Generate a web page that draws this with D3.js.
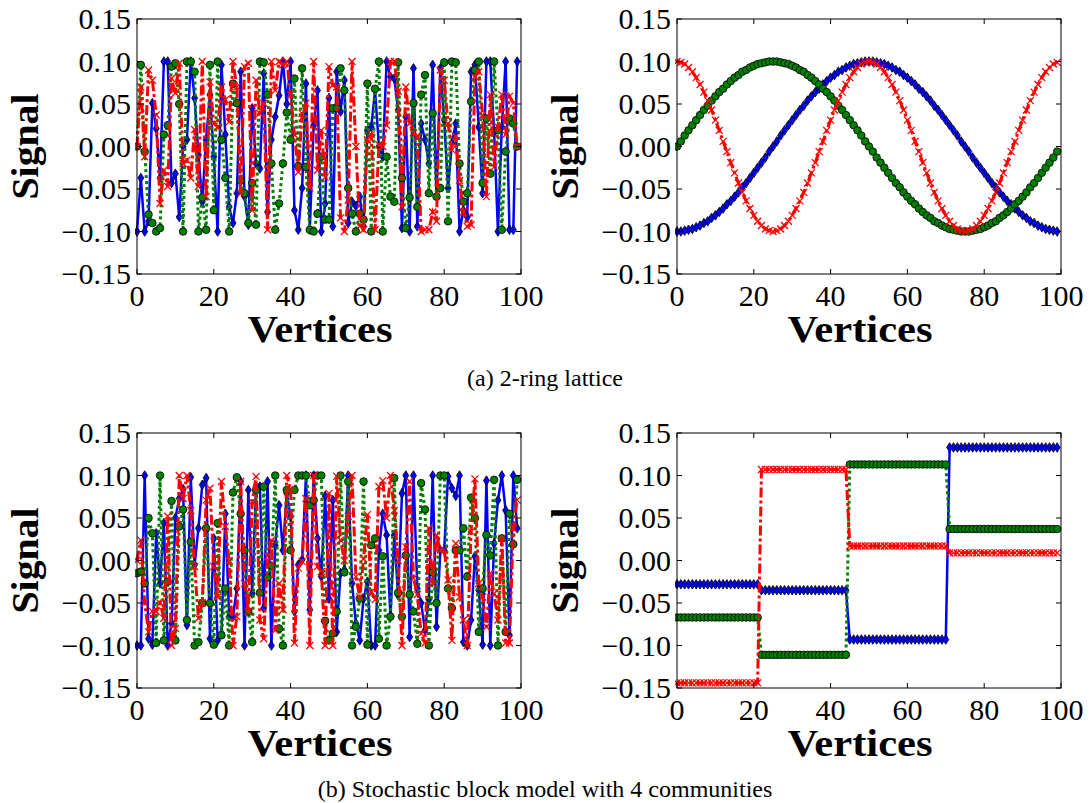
<!DOCTYPE html>
<html><head><meta charset="utf-8">
<script src="https://cdn.jsdelivr.net/npm/d3@7"></script>
<style>body{margin:0;background:#fff}svg{display:block}</style>
</head><body><svg id="c" width="1090" height="803"></svg>
<script>
// ---------- data ----------
const xTicks = [0, 20, 40, 60, 80, 100];
const yTicks = [-0.15, -0.10, -0.05, 0.00, 0.05, 0.10, 0.15];
const captions = ["(a) 2-ring lattice", "(b) Stochastic block model with 4 communities"];

// (a) 2-ring lattice, left panel (noisy eigenvectors)
const ringNoisyBlue = [-0.100,-0.037,-0.100,-0.088,0.051,0.021,-0.037,0.100,0.100,-0.043,-0.032,-0.083,0.000,0.008,0.100,0.057,-0.010,-0.065,0.008,0.061,-0.012,-0.100,0.096,0.014,-0.071,-0.090,-0.055,0.088,-0.059,-0.092,0.045,-0.020,-0.026,0.086,-0.077,0.008,0.035,0.060,0.100,0.050,0.100,-0.075,-0.098,-0.049,0.074,-0.098,0.025,0.066,-0.100,-0.067,0.057,-0.094,0.088,0.041,0.078,-0.090,-0.065,-0.070,-0.059,-0.094,0.019,0.023,0.066,0.000,-0.012,0.100,0.082,0.080,0.043,-0.096,0.035,-0.100,0.092,-0.094,0.027,0.008,-0.020,0.096,-0.059,0.092,0.031,-0.049,0.004,0.027,-0.100,-0.075,-0.083,0.088,0.096,0.023,-0.055,0.100,0.100,0.017,-0.100,0.023,0.100,-0.098,-0.098,0.100];
const ringNoisyGreen = [0.000,0.096,-0.006,-0.080,-0.090,-0.100,-0.096,0.014,0.025,0.094,0.098,0.050,-0.100,0.100,0.100,0.088,-0.100,-0.060,-0.098,0.096,-0.075,0.100,0.008,-0.037,-0.100,0.074,0.051,-0.040,-0.055,-0.090,-0.043,-0.092,0.100,0.099,0.061,-0.020,-0.098,-0.067,-0.020,0.040,0.008,0.080,-0.023,0.092,-0.024,-0.098,-0.100,-0.079,-0.012,-0.086,-0.086,0.045,0.045,0.092,0.066,-0.049,-0.079,-0.100,-0.079,-0.086,0.074,-0.100,0.068,0.100,-0.100,-0.012,-0.059,-0.065,0.099,-0.037,-0.096,-0.060,0.051,-0.071,0.061,0.084,-0.055,0.039,-0.059,-0.049,0.099,-0.088,0.100,0.099,-0.020,-0.065,-0.055,0.053,0.090,0.100,-0.043,0.033,-0.032,0.100,0.019,-0.098,-0.006,0.033,0.027,0.000];
const ringNoisyRed = [0.000,0.070,-0.012,0.090,0.078,0.037,-0.067,-0.028,-0.047,0.080,0.063,0.098,-0.020,-0.016,-0.037,0.020,-0.047,0.100,-0.059,0.076,0.027,0.023,0.070,0.055,0.029,0.100,0.070,-0.055,0.094,0.098,-0.075,0.078,0.039,0.051,-0.098,0.100,0.066,0.100,0.096,0.100,0.061,0.014,-0.030,0.039,0.051,-0.049,0.100,-0.028,0.019,-0.036,0.094,0.072,0.070,-0.084,-0.100,-0.063,0.100,0.000,-0.094,-0.098,0.008,0.014,-0.098,0.002,0.000,0.025,0.100,0.100,0.065,-0.071,0.070,0.027,0.016,0.012,-0.100,-0.098,-0.098,-0.077,-0.088,0.090,0.078,0.027,-0.004,0.012,-0.040,-0.077,-0.094,-0.092,0.082,0.088,0.037,-0.059,0.061,-0.024,0.023,0.061,0.014,0.059,0.051,0.000];

// (a) 2-ring lattice, right panel (smooth eigenvectors)
const ringSmoothBlue = [-0.100,-0.100,-0.099,-0.098,-0.097,-0.095,-0.093,-0.090,-0.088,-0.084,-0.081,-0.077,-0.073,-0.068,-0.064,-0.059,-0.054,-0.048,-0.043,-0.037,-0.031,-0.025,-0.019,-0.013,-0.006,0.000,0.006,0.013,0.019,0.025,0.031,0.037,0.043,0.048,0.054,0.059,0.064,0.068,0.073,0.077,0.081,0.084,0.088,0.090,0.093,0.095,0.097,0.098,0.099,0.100,0.100,0.100,0.099,0.098,0.097,0.095,0.093,0.090,0.088,0.084,0.081,0.077,0.073,0.068,0.064,0.059,0.054,0.048,0.043,0.037,0.031,0.025,0.019,0.013,0.006,0.000,-0.006,-0.013,-0.019,-0.025,-0.031,-0.037,-0.043,-0.048,-0.054,-0.059,-0.064,-0.068,-0.073,-0.077,-0.081,-0.084,-0.088,-0.090,-0.093,-0.095,-0.097,-0.098,-0.099,-0.100];
const ringSmoothGreen = [0.000,0.006,0.013,0.019,0.025,0.031,0.037,0.043,0.048,0.054,0.059,0.064,0.068,0.073,0.077,0.081,0.084,0.088,0.090,0.093,0.095,0.097,0.098,0.099,0.100,0.100,0.100,0.099,0.098,0.097,0.095,0.093,0.090,0.088,0.084,0.081,0.077,0.073,0.068,0.064,0.059,0.054,0.048,0.043,0.037,0.031,0.025,0.019,0.013,0.006,0.000,-0.006,-0.013,-0.019,-0.025,-0.031,-0.037,-0.043,-0.048,-0.054,-0.059,-0.064,-0.068,-0.073,-0.077,-0.081,-0.084,-0.088,-0.090,-0.093,-0.095,-0.097,-0.098,-0.099,-0.100,-0.100,-0.100,-0.099,-0.098,-0.097,-0.095,-0.093,-0.090,-0.088,-0.084,-0.081,-0.077,-0.073,-0.068,-0.064,-0.059,-0.054,-0.048,-0.043,-0.037,-0.031,-0.025,-0.019,-0.013,-0.006];
const ringSmoothRed = [0.100,0.099,0.097,0.093,0.088,0.081,0.073,0.064,0.054,0.043,0.031,0.019,0.006,-0.006,-0.019,-0.031,-0.043,-0.054,-0.064,-0.073,-0.081,-0.088,-0.093,-0.097,-0.099,-0.100,-0.099,-0.097,-0.093,-0.088,-0.081,-0.073,-0.064,-0.054,-0.043,-0.031,-0.019,-0.006,0.006,0.019,0.031,0.043,0.054,0.064,0.073,0.081,0.088,0.093,0.097,0.099,0.100,0.099,0.097,0.093,0.088,0.081,0.073,0.064,0.054,0.043,0.031,0.019,0.006,-0.006,-0.019,-0.031,-0.043,-0.054,-0.064,-0.073,-0.081,-0.088,-0.093,-0.097,-0.099,-0.100,-0.099,-0.097,-0.093,-0.088,-0.081,-0.073,-0.064,-0.054,-0.043,-0.031,-0.019,-0.006,0.006,0.019,0.031,0.043,0.054,0.064,0.073,0.081,0.088,0.093,0.097,0.099];

// (b) SBM, left panel (noisy eigenvectors)
const sbmNoisyBlue = [-0.100,-0.100,0.100,-0.092,-0.099,0.032,-0.027,0.044,-0.100,-0.074,0.050,0.073,0.084,-0.076,0.098,-0.005,0.038,0.089,0.097,-0.092,0.026,-0.094,-0.086,0.055,-0.066,-0.066,-0.033,0.093,-0.100,0.083,-0.039,0.087,0.087,-0.056,0.093,-0.100,0.018,0.065,0.012,0.079,0.052,-0.060,-0.005,0.001,0.100,-0.058,0.100,0.026,-0.019,0.076,-0.045,0.071,-0.084,-0.015,-0.011,0.100,-0.027,-0.074,-0.094,-0.045,-0.025,-0.100,-0.100,0.012,0.055,0.030,-0.066,0.030,-0.041,0.079,0.100,-0.090,0.100,-0.033,-0.050,-0.082,-0.046,0.100,-0.078,0.012,0.012,0.099,0.085,0.076,0.100,-0.096,-0.100,-0.070,0.005,-0.035,-0.099,0.094,-0.100,0.020,0.071,0.100,0.059,-0.088,0.100,0.038];
const sbmNoisyGreen = [-0.015,-0.013,-0.027,0.050,0.032,-0.097,0.100,-0.094,-0.025,0.070,-0.094,0.040,0.060,-0.070,0.022,-0.100,-0.096,-0.050,0.038,-0.050,-0.099,0.044,-0.088,-0.033,-0.100,0.080,0.098,0.055,0.012,-0.060,-0.096,0.083,-0.038,0.087,-0.020,-0.006,0.100,-0.080,-0.100,0.083,0.012,0.083,0.100,0.100,0.100,0.065,0.071,0.100,0.100,-0.071,-0.094,-0.086,-0.060,0.100,-0.014,0.093,-0.100,-0.078,-0.045,0.093,-0.099,0.018,0.026,-0.092,0.005,-0.100,-0.066,0.097,-0.038,-0.066,0.006,-0.040,-0.060,-0.098,0.091,0.060,-0.100,-0.014,-0.050,0.100,0.100,-0.033,-0.056,0.012,0.012,0.038,-0.019,0.074,0.050,-0.084,-0.033,0.030,0.006,0.095,-0.100,0.026,-0.084,0.055,0.019,0.095];
const sbmNoisyRed = [0.000,0.024,-0.050,-0.084,-0.060,-0.060,-0.050,-0.068,0.052,-0.100,-0.080,0.100,0.073,0.100,0.059,-0.007,-0.068,-0.050,0.071,0.085,-0.007,-0.043,0.093,0.040,0.000,-0.100,-0.066,0.093,-0.027,-0.060,0.069,0.099,-0.070,-0.092,0.005,0.024,-0.082,-0.027,-0.058,0.100,0.083,-0.097,-0.009,-0.001,0.073,-0.100,0.100,-0.007,-0.013,-0.100,0.079,-0.100,0.099,0.024,0.000,0.052,0.100,-0.019,-0.043,0.002,0.054,-0.037,-0.046,0.087,0.094,0.050,0.100,0.059,0.000,-0.100,0.016,0.093,-0.021,-0.040,-0.086,-0.097,0.038,-0.027,0.030,0.012,0.012,-0.023,-0.094,0.020,-0.043,-0.070,-0.100,0.034,0.096,-0.027,-0.043,-0.078,-0.015,-0.039,-0.070,0.026,-0.097,-0.097,0.038,0.071];

// (b) SBM, right panel (piecewise-constant eigenvectors)
const sbmSmoothBlue = [-0.028,-0.028,-0.028,-0.028,-0.028,-0.028,-0.028,-0.028,-0.028,-0.028,-0.028,-0.028,-0.028,-0.028,-0.028,-0.028,-0.028,-0.028,-0.028,-0.028,-0.028,-0.028,
 -0.035,-0.035,-0.035,-0.035,-0.035,-0.035,-0.035,-0.035,-0.035,-0.035,-0.035,-0.035,-0.035,-0.035,-0.035,-0.035,-0.035,-0.035,-0.035,-0.035,-0.035,-0.035,-0.035,
 -0.093,-0.093,-0.093,-0.093,-0.093,-0.093,-0.093,-0.093,-0.093,-0.093,-0.093,-0.093,-0.093,-0.093,-0.093,-0.093,-0.093,-0.093,-0.093,-0.093,-0.093,-0.093,-0.093,-0.093,-0.093,-0.093,
 0.133,0.133,0.133,0.133,0.133,0.133,0.133,0.133,0.133,0.133,0.133,0.133,0.133,0.133,0.133,0.133,0.133,0.133,0.133,0.133,0.133,0.133,0.133,0.133,0.133,0.133,0.133,0.133,0.133];
const sbmSmoothGreen = [-0.067,-0.067,-0.067,-0.067,-0.067,-0.067,-0.067,-0.067,-0.067,-0.067,-0.067,-0.067,-0.067,-0.067,-0.067,-0.067,-0.067,-0.067,-0.067,-0.067,-0.067,-0.067,
 -0.111,-0.111,-0.111,-0.111,-0.111,-0.111,-0.111,-0.111,-0.111,-0.111,-0.111,-0.111,-0.111,-0.111,-0.111,-0.111,-0.111,-0.111,-0.111,-0.111,-0.111,-0.111,-0.111,
 0.113,0.113,0.113,0.113,0.113,0.113,0.113,0.113,0.113,0.113,0.113,0.113,0.113,0.113,0.113,0.113,0.113,0.113,0.113,0.113,0.113,0.113,0.113,0.113,0.113,0.113,
 0.037,0.037,0.037,0.037,0.037,0.037,0.037,0.037,0.037,0.037,0.037,0.037,0.037,0.037,0.037,0.037,0.037,0.037,0.037,0.037,0.037,0.037,0.037,0.037,0.037,0.037,0.037,0.037,0.037];
const sbmSmoothRed = [-0.144,-0.144,-0.144,-0.144,-0.144,-0.144,-0.144,-0.144,-0.144,-0.144,-0.144,-0.144,-0.144,-0.144,-0.144,-0.144,-0.144,-0.144,-0.144,-0.144,-0.144,-0.144,
 0.107,0.107,0.107,0.107,0.107,0.107,0.107,0.107,0.107,0.107,0.107,0.107,0.107,0.107,0.107,0.107,0.107,0.107,0.107,0.107,0.107,0.107,0.107,
 0.017,0.017,0.017,0.017,0.017,0.017,0.017,0.017,0.017,0.017,0.017,0.017,0.017,0.017,0.017,0.017,0.017,0.017,0.017,0.017,0.017,0.017,0.017,0.017,0.017,0.017,
 0.009,0.009,0.009,0.009,0.009,0.009,0.009,0.009,0.009,0.009,0.009,0.009,0.009,0.009,0.009,0.009,0.009,0.009,0.009,0.009,0.009,0.009,0.009,0.009,0.009,0.009,0.009,0.009,0.009];

// ---------- drawing ----------
const svg = d3.select("#c");
const TICK_FONT = "'Liberation Serif', 'Times New Roman', serif";
const fmt = v => { const s = Math.abs(v).toFixed(2); return (v < -1e-9 ? "\u2212" : "") + s; };

const panels = [
  {left: 137, top: 19, blue: ringNoisyBlue, green: ringNoisyGreen, red: ringNoisyRed},
  {left: 677, top: 19, blue: ringSmoothBlue, green: ringSmoothGreen, red: ringSmoothRed},
  {left: 137, top: 433, blue: sbmNoisyBlue, green: sbmNoisyGreen, red: sbmNoisyRed},
  {left: 677, top: 433, blue: sbmSmoothBlue, green: sbmSmoothGreen, red: sbmSmoothRed}
];
const W = 384, H = 255;

panels.forEach((p, i) => {
  const x = d3.scaleLinear().domain([0, 100]).range([p.left, p.left + W]);
  const y = d3.scaleLinear().domain([-0.15, 0.15]).range([p.top + H, p.top]);
  const g = svg.append("g");
  const clipId = "clip" + i;
  svg.append("clipPath").attr("id", clipId).append("rect")
    .attr("x", p.left - 2).attr("y", p.top - 4).attr("width", W + 4).attr("height", H + 8);

  const plot = g.append("g").attr("clip-path", `url(#${clipId})`);
  const line = d3.line().x((d, k) => x(k)).y(d => y(d));

  // blue: solid + thin diamonds
  plot.append("path").datum(p.blue).attr("d", line)
    .attr("fill", "none").attr("stroke", "#0000ff").attr("stroke-width", 2.5);
  plot.append("g").selectAll("path").data(p.blue).join("path")
    .attr("transform", (d, k) => `translate(${x(k)},${y(d)})`)
    .attr("d", "M0,-4.8L3,0L0,4.8L-3,0Z")
    .attr("fill", "#0000ff").attr("stroke", "#000").attr("stroke-width", 0.8);

  // green: dotted + circles
  plot.append("path").datum(p.green).attr("d", line)
    .attr("fill", "none").attr("stroke", "#008000").attr("stroke-width", 3)
    .attr("stroke-dasharray", "3,3");
  plot.append("g").selectAll("circle").data(p.green).join("circle")
    .attr("cx", (d, k) => x(k)).attr("cy", d => y(d)).attr("r", 3.8)
    .attr("fill", "#008000").attr("stroke", "#000").attr("stroke-width", 0.8);

  // red: dash-dot + x
  plot.append("path").datum(p.red).attr("d", line)
    .attr("fill", "none").attr("stroke", "#ff0000").attr("stroke-width", 3)
    .attr("stroke-dasharray", "10,3,3,3");
  plot.append("g").selectAll("path").data(p.red).join("path")
    .attr("transform", (d, k) => `translate(${x(k)},${y(d)})`)
    .attr("d", "M-3.5,-3.5L3.5,3.5M-3.5,3.5L3.5,-3.5")
    .attr("fill", "none").attr("stroke", "#ff0000").attr("stroke-width", 1.3);

  // frame
  g.append("rect").attr("x", p.left).attr("y", p.top).attr("width", W).attr("height", H)
    .attr("fill", "none").attr("stroke", "#000").attr("stroke-width", 1);

  // ticks (inward, all four sides)
  const tl = 5;
  xTicks.forEach(t => {
    g.append("line").attr("x1", x(t)).attr("x2", x(t)).attr("y1", p.top + H).attr("y2", p.top + H - tl).attr("stroke", "#000");
    g.append("line").attr("x1", x(t)).attr("x2", x(t)).attr("y1", p.top).attr("y2", p.top + tl).attr("stroke", "#000");
    g.append("text").attr("x", x(t)).attr("y", p.top + H + 32)
      .attr("text-anchor", "middle").attr("font-family", TICK_FONT).attr("font-size", 30)
      .text(t);
  });
  yTicks.forEach(t => {
    g.append("line").attr("x1", p.left).attr("x2", p.left + tl).attr("y1", y(t)).attr("y2", y(t)).attr("stroke", "#000");
    g.append("line").attr("x1", p.left + W).attr("x2", p.left + W - tl).attr("y1", y(t)).attr("y2", y(t)).attr("stroke", "#000");
    g.append("text").attr("x", p.left - 6).attr("y", y(t) + 10)
      .attr("text-anchor", "end").attr("font-family", TICK_FONT).attr("font-size", 30)
      .text(fmt(t));
  });

  // axis labels
  g.append("text").attr("x", p.left + W / 2 - 9).attr("y", p.top + H + 68)
    .attr("text-anchor", "middle").attr("font-family", TICK_FONT).attr("font-weight", "bold")
    .attr("font-size", 37).attr("textLength", 145).attr("lengthAdjust", "spacingAndGlyphs")
    .text("Vertices");
  g.append("text")
    .attr("transform", `translate(${p.left - 99},${p.top + H / 2}) rotate(-90)`)
    .attr("text-anchor", "middle").attr("font-family", TICK_FONT).attr("font-weight", "bold")
    .attr("font-size", 37).attr("textLength", 106).attr("lengthAdjust", "spacingAndGlyphs")
    .text("Signal");
});

// captions
svg.append("text").attr("x", 545).attr("y", 386).attr("text-anchor", "middle")
  .attr("font-family", TICK_FONT).attr("font-size", 24).text(captions[0]);
svg.append("text").attr("x", 545).attr("y", 797).attr("text-anchor", "middle")
  .attr("font-family", TICK_FONT).attr("font-size", 24).text(captions[1]);
</script></body></html>
